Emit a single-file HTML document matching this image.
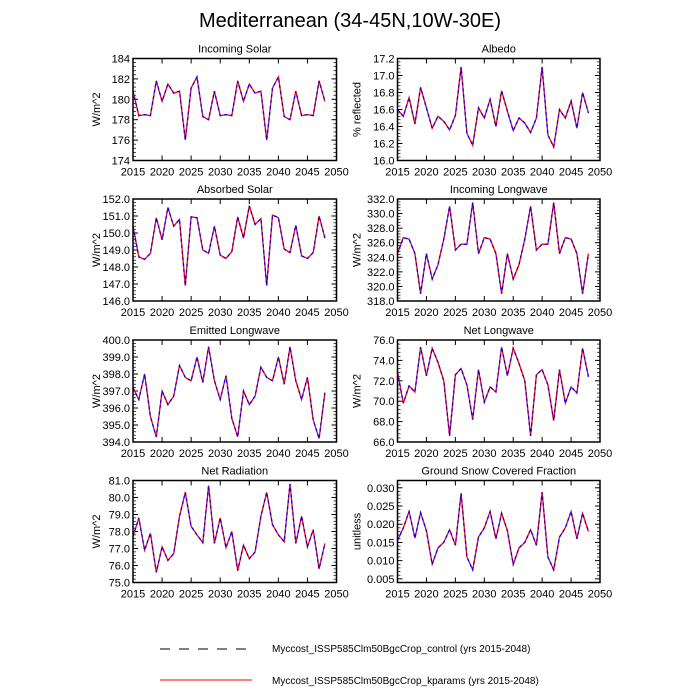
<!DOCTYPE html>
<html><head><meta charset="utf-8"><style>
body{margin:0;background:#fff}
svg{display:block;font-family:"Liberation Sans",sans-serif}
</style></head><body>
<svg id="s" width="700" height="700" xmlns="http://www.w3.org/2000/svg">
<text x="350" y="27" font-size="20" text-anchor="middle">Mediterranean (34-45N,10W-30E)</text>
<line x1="160" y1="649" x2="252" y2="649" stroke="#000" stroke-width="1" stroke-dasharray="10,9"/>
<text x="272" y="652" font-size="10">Myccost_ISSP585Clm50BgcCrop_control (yrs 2015-2048)</text>
<line x1="160" y1="680" x2="252" y2="680" stroke="#f00" stroke-width="1"/>
<text x="272" y="684" font-size="10">Myccost_ISSP585Clm50BgcCrop_kparams (yrs 2015-2048)</text>
</svg>
<script>
const P=[
{t:"Incoming Solar",yl:"W/m^2",lo:174,hi:184,st:2,dec:0,c:0,r:0,d:[180.8,178.4,178.5,178.4,181.8,179.8,181.5,180.6,180.8,176.0,181.1,182.2,178.3,178.0,180.8,178.4,178.5,178.4,181.8,179.8,181.5,180.6,180.8,176.0,181.1,182.2,178.3,178.0,180.8,178.4,178.5,178.4,181.8,179.8]},
{t:"Albedo",yl:"% reflected",lo:16.0,hi:17.2,st:0.2,dec:1,c:1,r:0,d:[16.6,16.52,16.74,16.43,16.86,16.62,16.38,16.52,16.46,16.36,16.53,17.1,16.32,16.18,16.62,16.5,16.72,16.4,16.82,16.58,16.35,16.5,16.44,16.33,16.5,17.1,16.3,16.16,16.6,16.5,16.7,16.38,16.8,16.56]},
{t:"Absorbed Solar",yl:"W/m^2",lo:146,hi:152,st:1,dec:1,c:0,r:1,d:[150.4,148.6,148.45,148.8,150.9,149.6,151.5,150.4,150.8,146.9,150.95,150.9,149.0,148.8,150.4,148.7,148.5,148.9,150.95,149.7,151.6,150.5,150.85,146.9,151.05,150.9,149.05,148.85,150.45,148.65,148.5,148.85,151.0,149.7]},
{t:"Incoming Longwave",yl:"W/m^2",lo:318,hi:332,st:2,dec:1,c:1,r:1,d:[324.5,326.7,326.5,324.5,319.0,324.5,321.0,323.0,326.5,331.0,325.0,325.8,325.8,331.5,324.5,326.7,326.5,324.5,319.0,324.5,321.0,323.0,326.5,331.0,325.0,325.8,325.8,331.5,324.5,326.7,326.5,324.5,319.0,324.5]},
{t:"Emitted Longwave",yl:"W/m^2",lo:394,hi:400,st:1,dec:1,c:0,r:2,d:[397.2,396.5,398.0,395.5,394.3,397.0,396.2,396.7,398.5,397.8,397.6,399.0,397.5,399.6,397.6,396.5,397.9,395.4,394.3,397.0,396.2,396.7,398.4,397.8,397.6,399.0,397.4,399.6,397.6,396.5,397.8,395.3,394.2,396.9]},
{t:"Net Longwave",yl:"W/m^2",lo:66,hi:76,st:2,dec:1,c:1,r:2,d:[72.9,69.8,71.5,70.9,75.3,72.5,75.2,73.8,72.0,66.6,72.6,73.2,71.6,68.2,73.1,69.9,71.4,70.9,75.3,72.5,75.2,73.7,72.0,66.6,72.6,73.1,71.6,68.1,73.1,69.8,71.4,70.8,75.2,72.4]},
{t:"Net Radiation",yl:"W/m^2",lo:75,hi:81,st:1,dec:1,c:0,r:3,d:[77.7,78.8,76.9,77.9,75.6,77.1,76.3,76.7,78.9,80.3,78.3,77.8,77.35,80.7,77.3,78.8,77.05,78.0,75.7,77.2,76.4,76.8,78.9,80.3,78.4,77.8,77.4,80.8,77.3,78.9,77.1,78.1,75.8,77.3]},
{t:"Ground Snow Covered Fraction",yl:"unitless",lo:0.004,hi:0.032,st:0.005,t0:0.005,dec:3,c:1,r:3,d:[0.0155,0.019,0.0235,0.0162,0.0232,0.0182,0.009,0.0135,0.015,0.0185,0.0142,0.0285,0.011,0.0075,0.0165,0.019,0.0235,0.016,0.023,0.0182,0.009,0.0135,0.015,0.0185,0.0142,0.0288,0.011,0.0075,0.0165,0.019,0.0235,0.016,0.023,0.018]}
];
const s=document.getElementById('s');let h='';
const X0=[133,397.5],W=[203.5,202.5],Y0=[58.5,199,340,480.5],H=102,YL=[33,37];
P.forEach(p=>{
 const x0=X0[p.c],w=W[p.c],y0=Y0[p.r];
 const fx=yr=>x0+(yr-2015)/35*w, fy=v=>y0+H-(v-p.lo)/(p.hi-p.lo)*H;
 h+=`<text x="${x0+w/2}" y="${y0-6}" font-size="11" text-anchor="middle">${p.t}</text>`;
 h+=`<text transform="translate(${x0-YL[p.c]},${y0+H/2}) rotate(-90)" font-size="11" text-anchor="middle">${p.yl}</text>`;
 const t0=p.t0!==undefined?p.t0:p.lo;
 for(let v=t0;v<=p.hi+1e-9;v+=p.st){const y=fy(v);
  h+=`<line x1="${x0}" y1="${y}" x2="${x0+5}" y2="${y}" stroke="#000"/><line x1="${x0+w}" y1="${y}" x2="${x0+w-5}" y2="${y}" stroke="#000"/>`;
  h+=`<text x="${x0-3}" y="${y+4}" font-size="11" text-anchor="end">${v.toFixed(p.dec)}</text>`;
  for(let k=1;k<5;k++){const vm=v+k*p.st/5;if(vm<=p.hi+1e-9){const ym=fy(vm);h+=`<line x1="${x0}" y1="${ym}" x2="${x0+3}" y2="${ym}" stroke="#000" stroke-width="0.7"/><line x1="${x0+w}" y1="${ym}" x2="${x0+w-3}" y2="${ym}" stroke="#000" stroke-width="0.7"/>`;}}
  if(v===t0){for(let k=1;k<5;k++){const vm=v-k*p.st/5;if(vm>=p.lo-1e-9){const ym=fy(vm);h+=`<line x1="${x0}" y1="${ym}" x2="${x0+3}" y2="${ym}" stroke="#000" stroke-width="0.7"/><line x1="${x0+w}" y1="${ym}" x2="${x0+w-3}" y2="${ym}" stroke="#000" stroke-width="0.7"/>`;}}}
 }
 for(let yr=2015;yr<=2050;yr+=5){const x=fx(yr);
  h+=`<line x1="${x}" y1="${y0+H}" x2="${x}" y2="${y0+H-5}" stroke="#000"/><line x1="${x}" y1="${y0}" x2="${x}" y2="${y0+5}" stroke="#000"/>`;
  h+=`<text x="${x}" y="${y0+H+15}" font-size="11" text-anchor="middle">${yr}</text>`;}
 const pts=p.d.map((v,i)=>fx(2015+i).toFixed(1)+','+fy(v).toFixed(1)).join(' ');
 h+=`<polyline points="${pts}" fill="none" stroke="#f00" stroke-width="1.3"/>`;
 h+=`<polyline points="${pts}" fill="none" stroke="#00f" stroke-width="1.3" stroke-dasharray="3,3"/>`;
 h+=`<rect x="${x0}" y="${y0}" width="${w}" height="${H}" fill="none" stroke="#000" stroke-width="1.5"/>`;
});
s.insertAdjacentHTML('beforeend',h);
</script>
</body></html>
